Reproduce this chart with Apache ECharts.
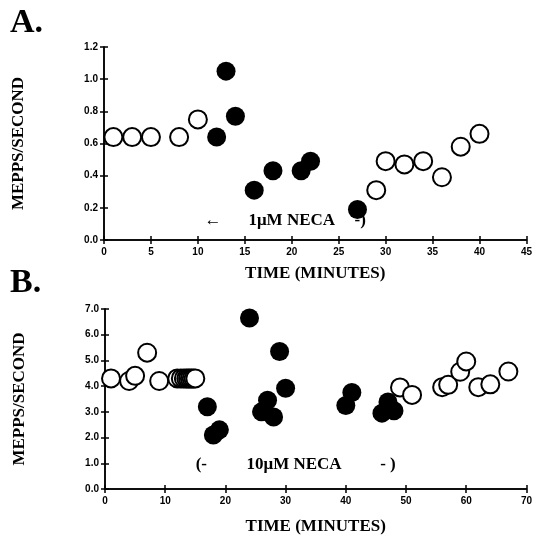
<!DOCTYPE html>
<html><head><meta charset="utf-8">
<script src="https://cdn.jsdelivr.net/npm/echarts@6/dist/echarts.min.js"></script>
<style>html,body{margin:0;padding:0;background:#fff}#c{width:535px;height:536px}</style>
</head><body><div id="c"></div>
<script>
// Panel A data (time in minutes, MEPPS/second)
var aOpenT = [1, 3, 5, 8, 10, 29, 30, 32, 34, 36, 38, 40];
var aOpenV = [0.64, 0.64, 0.64, 0.64, 0.75, 0.31, 0.49, 0.47, 0.49, 0.39, 0.58, 0.66];
var aFillT = [12, 13, 14, 16, 18, 21, 22, 27];
var aFillV = [0.64, 1.05, 0.77, 0.31, 0.43, 0.43, 0.49, 0.19];
// Panel B data
var bOpenT = [1, 4, 5, 7, 9, 12, 12.6, 13.1, 13.5, 13.8, 14.1, 14.4, 14.7, 15, 49, 51, 56, 57, 59, 60, 62, 64, 67];
var bOpenV = [4.3, 4.2, 4.4, 5.3, 4.2, 4.3, 4.3, 4.3, 4.3, 4.3, 4.3, 4.3, 4.3, 4.3, 3.95, 3.66, 3.96, 4.05, 4.56, 4.96, 3.96, 4.07, 4.57];
var bFillT = [17, 18, 19, 24, 26, 27, 28, 29, 30, 40, 41, 46, 47, 48];
var bFillV = [3.2, 2.1, 2.3, 6.65, 3.0, 3.45, 2.8, 5.35, 3.92, 3.25, 3.75, 2.95, 3.38, 3.04];
// Tick settings
var aXMax = 45, aXStep = 5, aYMax = 1.2, aYStep = 0.2;
var bXMax = 70, bXStep = 10, bYMax = 7, bYStep = 1;
// Annotations [time, value, text]
var aNotes = [[11.6, 0.12, '\u2190'], [20, 0.12, '1\u03bcM NECA'], [27.3, 0.12, '-)']];
var bNotes = [[16, 0.95, '(-'], [31.4, 0.95, '10\u03bcM NECA'], [47, 0.95, '- )']];

function zip(t, v) { return t.map(function (x, i) { return [x, v[i]]; }); }
var serif = 'Liberation Serif';
var lab = { color: '#000', fontFamily: 'Liberation Sans', fontWeight: 'bold', fontSize: 10 };
function xa(idx, max, step) {
  return { gridIndex: idx, type: 'value', min: 0, max: max, interval: step, position: 'bottom',
    name: 'TIME (MINUTES)', nameLocation: 'middle', nameGap: idx ? 29 : 25,
    nameTextStyle: { color: '#000', fontFamily: serif, fontWeight: 'bold', fontSize: 17 },
    axisLine: { lineStyle: { color: '#000', width: 1.5 } },
    axisTick: { length: 4, lineStyle: { color: '#000', width: 1.5 } },
    axisLabel: Object.assign({ margin: 7 }, lab), splitLine: { show: false } };
}
function ya(idx, max, step) {
  return { gridIndex: idx, type: 'value', min: 0, max: max, interval: step, position: 'left',
    name: 'MEPPS/SECOND', nameLocation: 'middle', nameGap: 77,
    nameTextStyle: { color: '#000', fontFamily: serif, fontWeight: 'bold', fontSize: 17 },
    axisLine: { lineStyle: { color: '#000', width: 1.5 } },
    axisTick: { length: 4, lineStyle: { color: '#000', width: 1.5 } },
    axisLabel: Object.assign({ margin: 6, formatter: function (v) { return v.toFixed(1); } }, lab),
    splitLine: { show: false } };
}
function yIn(idx, max, step) {
  return { gridIndex: idx, type: 'value', min: 0, max: max, interval: step, position: 'left', offset: 0,
    axisLine: { show: true, lineStyle: { color: '#000', width: 1.5 } }, axisLabel: { show: false }, splitLine: { show: false },
    axisTick: { show: true, inside: true, length: 4, lineStyle: { color: '#000', width: 1.5 } } };
}
function xIn(idx, max, step) {
  return { gridIndex: idx, type: 'value', min: 0, max: max, interval: step, position: 'bottom', offset: 0,
    axisLine: { show: true, lineStyle: { color: '#000', width: 1.5 } }, axisLabel: { show: false }, splitLine: { show: false },
    axisTick: { show: true, inside: true, length: 4, lineStyle: { color: '#000', width: 1.5 } } };
}
function openS(xi, yi, d) {
  return { type: 'scatter', xAxisIndex: xi, yAxisIndex: yi, data: d, symbolSize: 18,
    itemStyle: { color: '#fff', borderColor: '#000', borderWidth: 2, opacity: 1 }, z: 3 };
}
function fillS(xi, yi, d) {
  return { type: 'scatter', xAxisIndex: xi, yAxisIndex: yi, data: d, symbolSize: 19,
    itemStyle: { color: '#000', opacity: 1 }, z: 4 };
}
function noteS(xi, yi, notes) {
  return { type: 'scatter', xAxisIndex: xi, yAxisIndex: yi, symbolSize: 1, silent: true,
    itemStyle: { color: '#fff', opacity: 1 },
    data: notes.map(function (n) { return { value: [n[0], n[1]], name: n[2] }; }),
    label: { show: true, position: 'inside', formatter: '{b}', color: '#000', opacity: 1,
      fontFamily: serif, fontWeight: 'bold', fontSize: 17 } };
}
var chart = echarts.init(document.getElementById('c'), null, { renderer: 'canvas' });
chart.setOption({
  backgroundColor: '#fff',
  animation: false,
  grid: [
    { left: 104, right: 8, top: 47, height: 193 },
    { left: 105, right: 8, top: 309, height: 191 }
  ],
  xAxis: [xa(0, aXMax, aXStep), xa(1, bXMax, bXStep), xIn(0, aXMax, aXStep), xIn(1, bXMax, bXStep)],
  yAxis: [ya(0, aYMax, aYStep), ya(1, bYMax, bYStep), yIn(0, aYMax, aYStep), yIn(1, bYMax, bYStep)],
  graphic: [
    { type: 'text', left: 10, top: 6, style: { text: 'A.', font: 'bold 34px "Liberation Serif"', fill: '#000' } },
    { type: 'text', left: 10, top: 266, style: { text: 'B.', font: 'bold 34px "Liberation Serif"', fill: '#000' } }
  ],
  series: [
    openS(0, 0, zip(aOpenT, aOpenV)), fillS(0, 0, zip(aFillT, aFillV)),
    openS(1, 1, zip(bOpenT, bOpenV)), fillS(1, 1, zip(bFillT, bFillV)),
    noteS(0, 0, aNotes), noteS(1, 1, bNotes)
  ]
});
</script></body></html>
